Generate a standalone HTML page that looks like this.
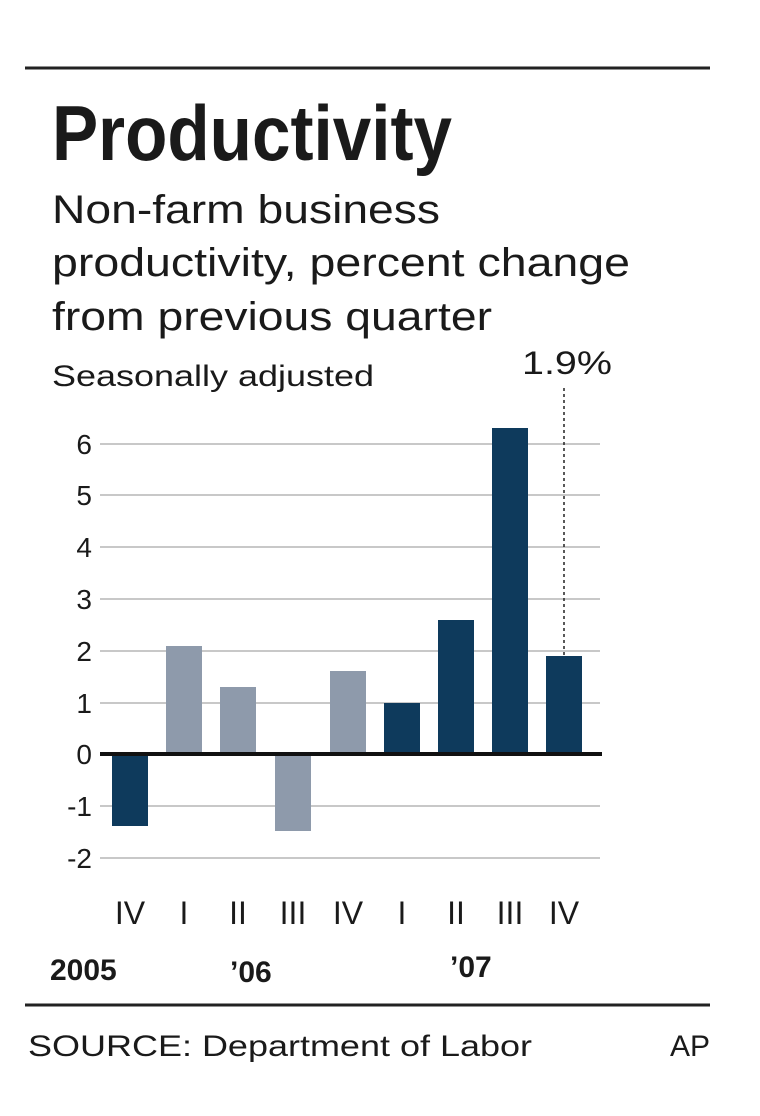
<!DOCTYPE html>
<html><head><style>
body{margin:0;background:#fff;}
svg{display:block}
text{font-family:"Liberation Sans",sans-serif;fill:#1a1a1a}
</style></head><body>
<svg width="760" height="1116" xmlns="http://www.w3.org/2000/svg">
<rect width="760" height="1116" fill="#fff"/>
<line x1="25" y1="68" x2="710" y2="68" stroke="#222" stroke-width="3"/>
<text x="52" y="160" font-size="78" font-weight="bold" textLength="400" lengthAdjust="spacingAndGlyphs">Productivity</text>
<text x="52" y="223" font-size="40" textLength="388" lengthAdjust="spacingAndGlyphs">Non-farm business</text>
<text x="52" y="276" font-size="40" textLength="578" lengthAdjust="spacingAndGlyphs">productivity, percent change</text>
<text x="52" y="330" font-size="40" textLength="440" lengthAdjust="spacingAndGlyphs">from previous quarter</text>
<text x="52" y="386" font-size="30" textLength="322" lengthAdjust="spacingAndGlyphs">Seasonally adjusted</text>
<text x="522" y="374" font-size="32" textLength="90" lengthAdjust="spacingAndGlyphs">1.9%</text>
<g stroke="#c8c8c8" stroke-width="2">
<line x1="100" y1="444" x2="600" y2="444"/>
<line x1="100" y1="495" x2="600" y2="495"/>
<line x1="100" y1="547" x2="600" y2="547"/>
<line x1="100" y1="599" x2="600" y2="599"/>
<line x1="100" y1="651" x2="600" y2="651"/>
<line x1="100" y1="703" x2="600" y2="703"/>
<line x1="100" y1="806" x2="600" y2="806"/>
<line x1="100" y1="858" x2="600" y2="858"/>
</g>
<g font-size="28" text-anchor="end">
<text x="92" y="454">6</text><text x="92" y="505">5</text><text x="92" y="557">4</text>
<text x="92" y="609">3</text><text x="92" y="661">2</text><text x="92" y="713">1</text>
<text x="92" y="764">0</text><text x="92" y="816">-1</text><text x="92" y="868">-2</text>
</g>
<rect x="112" y="754" width="36" height="72" fill="#0e3a5c"/>
<rect x="166" y="646" width="36" height="108" fill="#8e9aab"/>
<rect x="220" y="687" width="36" height="67" fill="#8e9aab"/>
<rect x="275" y="754" width="36" height="77" fill="#8e9aab"/>
<rect x="330" y="671" width="36" height="83" fill="#8e9aab"/>
<rect x="384" y="703" width="36" height="51" fill="#0e3a5c"/>
<rect x="438" y="620" width="36" height="134" fill="#0e3a5c"/>
<rect x="492" y="428" width="36" height="326" fill="#0e3a5c"/>
<rect x="546" y="656" width="36" height="98" fill="#0e3a5c"/>
<line x1="564" y1="388" x2="564" y2="656" stroke="#222" stroke-width="1.5" stroke-dasharray="3,3"/>
<line x1="100" y1="754" x2="602" y2="754" stroke="#111" stroke-width="4"/>
<g font-size="32" text-anchor="middle">
<text x="130" y="924">IV</text><text x="184" y="924">I</text><text x="238" y="924">II</text>
<text x="293" y="924">III</text><text x="348" y="924">IV</text><text x="402" y="924">I</text>
<text x="456" y="924">II</text><text x="510" y="924">III</text><text x="564" y="924">IV</text>
</g>
<g font-size="30" font-weight="bold">
<text x="50" y="980">2005</text><text x="230" y="982">’06</text><text x="450" y="977">’07</text>
</g>
<line x1="25" y1="1005" x2="710" y2="1005" stroke="#222" stroke-width="3"/>
<text x="28" y="1056" font-size="30" textLength="504" lengthAdjust="spacingAndGlyphs">SOURCE: Department of Labor</text>
<text x="710" y="1056" font-size="30" text-anchor="end">AP</text>
</svg>
</body></html>
